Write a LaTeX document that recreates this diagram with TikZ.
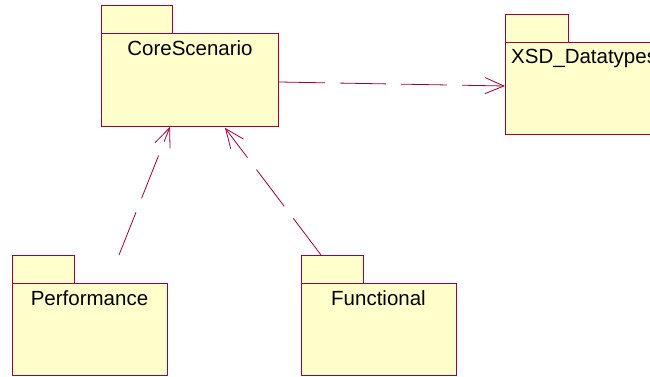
\documentclass[tikz,border=0pt]{standalone}
\usepackage{fontspec}
\setmainfont{Liberation Sans}
\usetikzlibrary{arrows.meta,calc}
\definecolor{pkgline}{RGB}{160,0,58}
\definecolor{pkgfill}{RGB}{255,255,204}
\tikzset{
  pkgbody/.style={draw=pkgline, fill=pkgfill, line width=0.9pt, inner sep=0pt, anchor=north west},
  pkgtab/.style={draw=pkgline, fill=pkgfill, line width=0.9pt},
  pkglabel/.style={anchor=base, inner sep=0pt, font=\fontsize{20.5}{24}\selectfont},
  dep/.style={draw=pkgline, line width=0.8pt, dash pattern=on 46pt off 15pt,
    -{Straight Barb[length=19pt,width=16pt,line width=0.8pt]}}
}
\begin{document}
\begin{tikzpicture}[x=1pt,y=-1pt]
\useasboundingbox (0,0) rectangle (650,377);
\clip (0,0) rectangle (650,377);
% CoreScenario
\draw[pkgtab] (101,5) rectangle (172,33);
\node[pkgbody, minimum width=177pt, minimum height=93pt] (core) at (101,33) {};
\node[pkglabel] (corel) at (190,55.5) {CoreScenario};
% XSD_Datatypes
\draw[pkgtab] (505,14) rectangle (568,42);
\node[pkgbody, minimum width=200pt, minimum height=92pt] (xsd) at (505,42) {};
\node[pkglabel, anchor=base west] (xsdl) at (511,64) {XSD\_Datatypes};
% Performance
\draw[pkgtab] (12,255) rectangle (74,283);
\node[pkgbody, minimum width=155pt, minimum height=92pt] (perf) at (12,283) {};
\node[pkglabel] (perfl) at (89.5,305) {Performance};
% Functional
\draw[pkgtab] (301,255) rectangle (363,283);
\node[pkgbody, minimum width=155pt, minimum height=92pt] (func) at (301,283) {};
\node[pkglabel] (funcl) at (378.5,305) {Functional};
% dependencies
\coordinate (coreE) at ($(core.north east)+(0,49)$);
\coordinate (xsdW) at ($(xsd.north west)+(0,44)$);
\coordinate (coreB1) at ($(core.south west)+(69,0)$);
\coordinate (coreB2) at ($(core.south west)+(124,1)$);
\coordinate (perfT) at ($(perf.north west)+(107,-28)$);
\coordinate (funcT) at ($(func.north west)+(20,-28)$);
\draw[dep] (coreE) -- (xsdW);
\draw[dep] (perfT) -- (coreB1);
\draw[dep] (funcT) -- (coreB2);
\end{tikzpicture}
\end{document}
